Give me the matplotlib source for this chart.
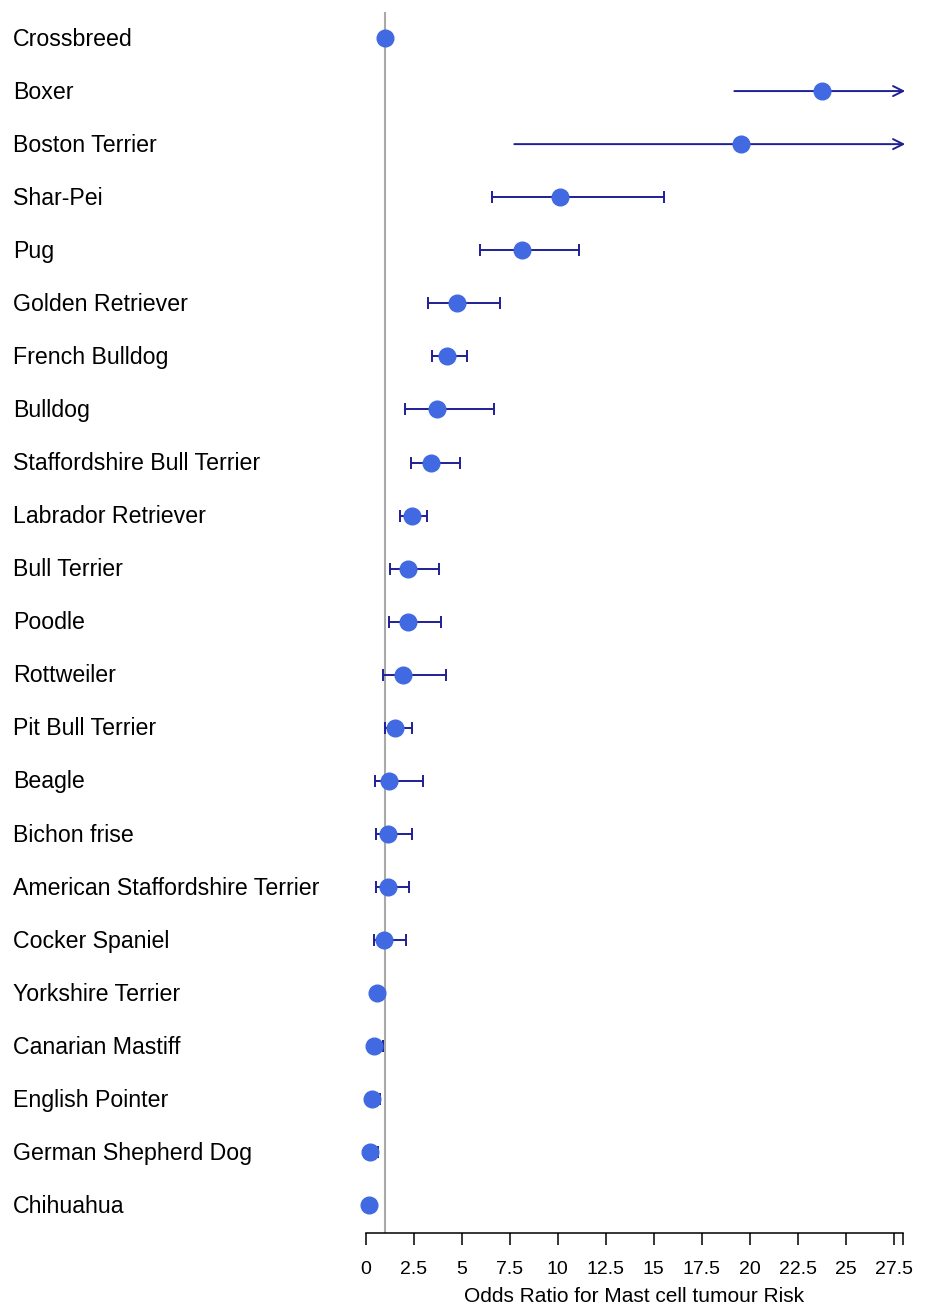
import numpy as np
import matplotlib
matplotlib.use("Agg")
import matplotlib.pyplot as plt
from matplotlib.transforms import blended_transform_factory

plt.rcParams['font.family'] = ['Liberation Sans', 'DejaVu Sans']

breeds = ["Crossbreed", "Boxer", "Boston Terrier", "Shar-Pei", "Pug",
          "Golden Retriever", "French Bulldog", "Bulldog",
          "Staffordshire Bull Terrier", "Labrador Retriever", "Bull Terrier",
          "Poodle", "Rottweiler", "Pit Bull Terrier", "Beagle", "Bichon frise",
          "American Staffordshire Terrier", "Cocker Spaniel",
          "Yorkshire Terrier", "Canarian Mastiff", "English Pointer",
          "German Shepherd Dog", "Chihuahua"]
odds = [1.0, 23.77, 19.57, 10.14, 8.14, 4.74, 4.24, 3.72, 3.40, 2.40, 2.22,
        2.19, 1.96, 1.54, 1.21, 1.14, 1.14, 0.97, 0.59, 0.44, 0.31, 0.22, 0.16]
ci_low = [np.nan, 19.2, 7.74, 6.60, 5.95, 3.23, 3.45, 2.06, 2.34, 1.77, 1.28,
          1.20, 0.92, 0.99, 0.48, 0.52, 0.55, 0.42, np.nan, 0.20, 0.10, 0.08,
          np.nan]
# np.inf = upper limit runs off the chart (drawn as arrow)
ci_high = [np.nan, np.inf, np.inf, 15.56, 11.12, 7.00, 5.28, 6.68, 4.93, 3.21,
           3.84, 3.92, 4.18, 2.43, 2.96, 2.43, 2.24, 2.10, np.nan, 0.88, 0.74,
           0.66, np.nan]
x_ticks = [0, 2.5, 5, 7.5, 10, 12.5, 15, 17.5, 20, 22.5, 25, 27.5]
x_max = 28

W, H = 933, 1307
fig = plt.figure(figsize=(W / 100, H / 100), dpi=100)
ax = fig.add_axes([365.7 / W, 74 / H, 537.6 / W, 1221 / H])

y = np.arange(len(breeds))
odds = np.array(odds)
lo = np.array(ci_low)
hi = np.array(ci_high)

ci_col = "#1f1f96"
pt_col = "#4169E1"

# reference line at OR = 1
ax.axvline(1, color="#a9a9a9", lw=1.5, zorder=1)

# closed intervals with caps
closed = ~np.isnan(lo) & np.isfinite(hi)
ax.errorbar(odds[closed], y[closed],
            xerr=[odds[closed] - lo[closed], hi[closed] - odds[closed]],
            fmt="none", ecolor=ci_col, elinewidth=1.4, capsize=4.5,
            capthick=1.4, zorder=2)

# open-ended intervals -> arrow to the axis end
for yi, l, h in zip(y, lo, hi):
    if np.isinf(h):
        ax.annotate("", xy=(x_max + 0.1, yi), xytext=(l, yi),
                    arrowprops=dict(arrowstyle="->", color=ci_col, lw=1.4,
                                    mutation_scale=18, shrinkA=0, shrinkB=0),
                    annotation_clip=False, zorder=2)

ax.plot(odds, y, "o", color=pt_col, ms=12, mec=pt_col, zorder=3,
        clip_on=False)

ax.set_xlim(0, x_max)
ax.set_ylim(22.52, -0.49)

for s in ["top", "right", "left"]:
    ax.spines[s].set_visible(False)
ax.spines["bottom"].set_linewidth(1.1)
ax.spines["bottom"].set_bounds(0, x_max)

ax.set_xticks(x_ticks + [x_max])
ax.set_xticklabels([f"{t:g}" for t in x_ticks] + [""], fontsize=14)
ax.tick_params(axis="x", direction="out", length=8.5, width=1.1, pad=12)
ax.set_yticks([])
ax.set_xlabel("Odds Ratio for Mast cell tumour Risk", fontsize=15,
              labelpad=6)

trans = blended_transform_factory(fig.transFigure, ax.transData)
for yi, name in zip(y, breeds):
    ax.text(13 / W, yi + 0.02, name, transform=trans, ha="left",
            va="center", fontsize=16.7, clip_on=False)

fig.savefig("out.png", dpi=100)
